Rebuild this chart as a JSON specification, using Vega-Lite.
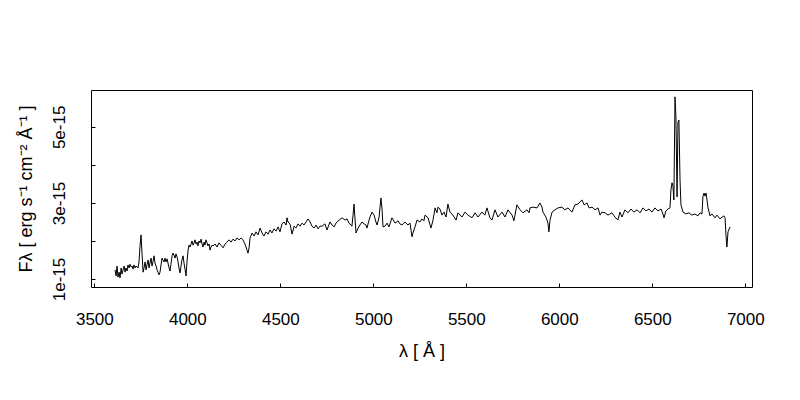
{
  "$schema": "https://vega.github.io/schema/vega-lite/v6.json",
  "width": 661,
  "height": 197,
  "autosize": {"type": "none"},
  "padding": {"left": 91, "top": 90, "right": 48, "bottom": 113},
  "background": "white",
  "config": {
    "view": {"stroke": "black", "strokeWidth": 1},
    "font": "Liberation Sans",
    "axis": {
      "grid": false,
      "domain": false,
      "ticks": true,
      "tickSize": -4,
      "tickColor": "black",
      "tickWidth": 1,
      "labelFont": "Liberation Sans",
      "labelFontSize": 17,
      "labelColor": "black",
      "labelFlush": false,
      "labelOverlap": false,
      "titleFont": "Liberation Sans",
      "titleFontSize": 18,
      "titleFontWeight": "normal",
      "titleColor": "black"
    }
  },
  "data": {
    "values": [
      {"lambda": 3611, "flux": 1.24e-15}, {"lambda": 3617, "flux": 1.08e-15}, {"lambda": 3622, "flux": 1.34e-15}, {"lambda": 3627, "flux": 1.05e-15},
      {"lambda": 3633, "flux": 1.18e-15}, {"lambda": 3638, "flux": 1.03e-15}, {"lambda": 3644, "flux": 1.29e-15}, {"lambda": 3649, "flux": 1.13e-15},
      {"lambda": 3654, "flux": 1.24e-15}, {"lambda": 3660, "flux": 1.34e-15}, {"lambda": 3665, "flux": 1.18e-15}, {"lambda": 3670, "flux": 1.29e-15},
      {"lambda": 3676, "flux": 1.21e-15}, {"lambda": 3681, "flux": 1.37e-15}, {"lambda": 3687, "flux": 1.29e-15}, {"lambda": 3692, "flux": 1.39e-15},
      {"lambda": 3697, "flux": 1.32e-15}, {"lambda": 3703, "flux": 1.34e-15}, {"lambda": 3708, "flux": 1.26e-15}, {"lambda": 3713, "flux": 1.37e-15},
      {"lambda": 3719, "flux": 1.29e-15}, {"lambda": 3724, "flux": 1.34e-15}, {"lambda": 3730, "flux": 1.32e-15}, {"lambda": 3735, "flux": 1.29e-15},
      {"lambda": 3740, "flux": 1.45e-15}, {"lambda": 3746, "flux": 1.89e-15}, {"lambda": 3751, "flux": 2.16e-15}, {"lambda": 3756, "flux": 1.71e-15},
      {"lambda": 3762, "flux": 1.18e-15}, {"lambda": 3767, "flux": 1.29e-15}, {"lambda": 3773, "flux": 1.45e-15}, {"lambda": 3778, "flux": 1.24e-15},
      {"lambda": 3783, "flux": 1.37e-15}, {"lambda": 3789, "flux": 1.50e-15}, {"lambda": 3794, "flux": 1.29e-15}, {"lambda": 3799, "flux": 1.42e-15},
      {"lambda": 3805, "flux": 1.55e-15}, {"lambda": 3810, "flux": 1.34e-15}, {"lambda": 3816, "flux": 1.47e-15}, {"lambda": 3821, "flux": 1.61e-15},
      {"lambda": 3826, "flux": 1.42e-15}, {"lambda": 3832, "flux": 1.34e-15}, {"lambda": 3837, "flux": 1.24e-15}, {"lambda": 3842, "flux": 1.18e-15},
      {"lambda": 3848, "flux": 1.11e-15}, {"lambda": 3853, "flux": 1.18e-15}, {"lambda": 3859, "flux": 1.39e-15}, {"lambda": 3864, "flux": 1.55e-15},
      {"lambda": 3869, "flux": 1.50e-15}, {"lambda": 3875, "flux": 1.45e-15}, {"lambda": 3880, "flux": 1.55e-15}, {"lambda": 3885, "flux": 1.45e-15},
      {"lambda": 3891, "flux": 1.53e-15}, {"lambda": 3896, "flux": 1.42e-15}, {"lambda": 3902, "flux": 1.29e-15}, {"lambda": 3907, "flux": 1.21e-15},
      {"lambda": 3912, "flux": 1.39e-15}, {"lambda": 3918, "flux": 1.61e-15}, {"lambda": 3923, "flux": 1.68e-15}, {"lambda": 3928, "flux": 1.63e-15},
      {"lambda": 3934, "flux": 1.55e-15}, {"lambda": 3939, "flux": 1.66e-15}, {"lambda": 3945, "flux": 1.58e-15}, {"lambda": 3950, "flux": 1.45e-15},
      {"lambda": 3955, "flux": 1.29e-15}, {"lambda": 3961, "flux": 1.16e-15}, {"lambda": 3966, "flux": 1.34e-15}, {"lambda": 3971, "flux": 1.50e-15},
      {"lambda": 3977, "flux": 1.61e-15}, {"lambda": 3982, "flux": 1.42e-15}, {"lambda": 3988, "flux": 1.24e-15}, {"lambda": 3993, "flux": 1.08e-15},
      {"lambda": 3998, "flux": 1.45e-15}, {"lambda": 4004, "flux": 1.76e-15}, {"lambda": 4009, "flux": 1.89e-15}, {"lambda": 4014, "flux": 1.84e-15},
      {"lambda": 4020, "flux": 1.92e-15}, {"lambda": 4025, "flux": 2.00e-15}, {"lambda": 4031, "flux": 1.89e-15}, {"lambda": 4036, "flux": 1.95e-15},
      {"lambda": 4041, "flux": 2.03e-15}, {"lambda": 4047, "flux": 1.92e-15}, {"lambda": 4052, "flux": 1.97e-15}, {"lambda": 4057, "flux": 1.87e-15},
      {"lambda": 4063, "flux": 2.00e-15}, {"lambda": 4068, "flux": 1.95e-15}, {"lambda": 4074, "flux": 2.05e-15}, {"lambda": 4079, "flux": 1.92e-15},
      {"lambda": 4084, "flux": 1.84e-15}, {"lambda": 4090, "flux": 1.97e-15}, {"lambda": 4095, "flux": 1.89e-15}, {"lambda": 4100, "flux": 2.03e-15},
      {"lambda": 4106, "flux": 1.95e-15}, {"lambda": 4111, "flux": 1.87e-15}, {"lambda": 4117, "flux": 1.92e-15}, {"lambda": 4122, "flux": 1.76e-15},
      {"lambda": 4127, "flux": 1.84e-15}, {"lambda": 4133, "flux": 1.89e-15}, {"lambda": 4138, "flux": 1.87e-15}, {"lambda": 4149, "flux": 1.92e-15},
      {"lambda": 4160, "flux": 1.84e-15}, {"lambda": 4170, "flux": 1.95e-15}, {"lambda": 4181, "flux": 1.89e-15}, {"lambda": 4192, "flux": 1.82e-15},
      {"lambda": 4203, "flux": 1.92e-15}, {"lambda": 4213, "flux": 1.97e-15}, {"lambda": 4224, "flux": 2.03e-15}, {"lambda": 4235, "flux": 1.97e-15},
      {"lambda": 4246, "flux": 2.05e-15}, {"lambda": 4256, "flux": 2.00e-15}, {"lambda": 4267, "flux": 2.08e-15}, {"lambda": 4278, "flux": 2.03e-15},
      {"lambda": 4289, "flux": 2.08e-15}, {"lambda": 4299, "flux": 2.03e-15}, {"lambda": 4310, "flux": 1.92e-15}, {"lambda": 4321, "flux": 1.76e-15},
      {"lambda": 4326, "flux": 1.68e-15}, {"lambda": 4332, "flux": 1.82e-15}, {"lambda": 4337, "flux": 2.08e-15}, {"lambda": 4348, "flux": 2.21e-15},
      {"lambda": 4359, "flux": 2.13e-15}, {"lambda": 4369, "flux": 2.24e-15}, {"lambda": 4380, "flux": 2.16e-15}, {"lambda": 4391, "flux": 2.34e-15},
      {"lambda": 4402, "flux": 2.21e-15}, {"lambda": 4412, "flux": 2.13e-15}, {"lambda": 4423, "flux": 2.24e-15}, {"lambda": 4434, "flux": 2.18e-15},
      {"lambda": 4445, "flux": 2.29e-15}, {"lambda": 4455, "flux": 2.21e-15}, {"lambda": 4466, "flux": 2.32e-15}, {"lambda": 4477, "flux": 2.26e-15},
      {"lambda": 4488, "flux": 2.37e-15}, {"lambda": 4498, "flux": 2.24e-15}, {"lambda": 4509, "flux": 2.45e-15}, {"lambda": 4520, "flux": 2.50e-15},
      {"lambda": 4531, "flux": 2.42e-15}, {"lambda": 4536, "flux": 2.61e-15}, {"lambda": 4541, "flux": 2.50e-15}, {"lambda": 4552, "flux": 2.45e-15},
      {"lambda": 4563, "flux": 2.18e-15}, {"lambda": 4574, "flux": 2.39e-15}, {"lambda": 4584, "flux": 2.34e-15}, {"lambda": 4595, "flux": 2.45e-15},
      {"lambda": 4606, "flux": 2.39e-15}, {"lambda": 4617, "flux": 2.47e-15}, {"lambda": 4627, "flux": 2.42e-15}, {"lambda": 4638, "flux": 2.50e-15},
      {"lambda": 4649, "flux": 2.58e-15}, {"lambda": 4660, "flux": 2.50e-15}, {"lambda": 4670, "flux": 2.39e-15}, {"lambda": 4681, "flux": 2.34e-15},
      {"lambda": 4692, "flux": 2.42e-15}, {"lambda": 4703, "flux": 2.32e-15}, {"lambda": 4713, "flux": 2.39e-15}, {"lambda": 4724, "flux": 2.39e-15},
      {"lambda": 4740, "flux": 2.45e-15}, {"lambda": 4751, "flux": 2.29e-15}, {"lambda": 4767, "flux": 2.50e-15}, {"lambda": 4778, "flux": 2.42e-15},
      {"lambda": 4789, "flux": 2.37e-15}, {"lambda": 4799, "flux": 2.47e-15}, {"lambda": 4816, "flux": 2.55e-15}, {"lambda": 4832, "flux": 2.61e-15},
      {"lambda": 4848, "flux": 2.55e-15}, {"lambda": 4859, "flux": 2.58e-15}, {"lambda": 4869, "flux": 2.47e-15}, {"lambda": 4880, "flux": 2.42e-15},
      {"lambda": 4885, "flux": 2.39e-15}, {"lambda": 4891, "flux": 2.68e-15}, {"lambda": 4896, "flux": 2.97e-15}, {"lambda": 4902, "flux": 2.55e-15},
      {"lambda": 4907, "flux": 2.21e-15}, {"lambda": 4918, "flux": 2.34e-15}, {"lambda": 4928, "flux": 2.42e-15}, {"lambda": 4939, "flux": 2.50e-15},
      {"lambda": 4950, "flux": 2.45e-15}, {"lambda": 4961, "flux": 2.42e-15}, {"lambda": 4966, "flux": 2.34e-15}, {"lambda": 4977, "flux": 2.55e-15},
      {"lambda": 4982, "flux": 2.63e-15}, {"lambda": 4993, "flux": 2.76e-15}, {"lambda": 5004, "flux": 2.68e-15}, {"lambda": 5014, "flux": 2.50e-15},
      {"lambda": 5020, "flux": 2.42e-15}, {"lambda": 5031, "flux": 2.63e-15}, {"lambda": 5036, "flux": 2.89e-15}, {"lambda": 5041, "flux": 3.13e-15},
      {"lambda": 5047, "flux": 2.82e-15}, {"lambda": 5052, "flux": 2.37e-15}, {"lambda": 5063, "flux": 2.39e-15}, {"lambda": 5074, "flux": 2.47e-15},
      {"lambda": 5084, "flux": 2.37e-15}, {"lambda": 5100, "flux": 2.61e-15}, {"lambda": 5117, "flux": 2.47e-15}, {"lambda": 5133, "flux": 2.53e-15},
      {"lambda": 5143, "flux": 2.45e-15}, {"lambda": 5154, "flux": 2.42e-15}, {"lambda": 5170, "flux": 2.50e-15}, {"lambda": 5186, "flux": 2.42e-15},
      {"lambda": 5197, "flux": 2.47e-15}, {"lambda": 5208, "flux": 2.11e-15}, {"lambda": 5213, "flux": 2.21e-15}, {"lambda": 5224, "flux": 2.37e-15},
      {"lambda": 5235, "flux": 2.55e-15}, {"lambda": 5251, "flux": 2.50e-15}, {"lambda": 5262, "flux": 2.58e-15}, {"lambda": 5272, "flux": 2.53e-15},
      {"lambda": 5278, "flux": 2.68e-15}, {"lambda": 5294, "flux": 2.61e-15}, {"lambda": 5310, "flux": 2.34e-15}, {"lambda": 5321, "flux": 2.55e-15},
      {"lambda": 5332, "flux": 2.87e-15}, {"lambda": 5342, "flux": 2.74e-15}, {"lambda": 5348, "flux": 2.89e-15}, {"lambda": 5358, "flux": 2.84e-15},
      {"lambda": 5369, "flux": 2.68e-15}, {"lambda": 5380, "flux": 2.76e-15}, {"lambda": 5391, "flux": 2.63e-15}, {"lambda": 5401, "flux": 2.97e-15},
      {"lambda": 5412, "flux": 2.76e-15}, {"lambda": 5428, "flux": 2.68e-15}, {"lambda": 5445, "flux": 2.55e-15}, {"lambda": 5455, "flux": 2.74e-15},
      {"lambda": 5477, "flux": 2.63e-15}, {"lambda": 5493, "flux": 2.76e-15}, {"lambda": 5509, "flux": 2.68e-15}, {"lambda": 5531, "flux": 2.61e-15},
      {"lambda": 5547, "flux": 2.74e-15}, {"lambda": 5563, "flux": 2.63e-15}, {"lambda": 5584, "flux": 2.76e-15}, {"lambda": 5600, "flux": 2.68e-15},
      {"lambda": 5611, "flux": 2.87e-15}, {"lambda": 5627, "flux": 2.61e-15}, {"lambda": 5638, "flux": 2.55e-15}, {"lambda": 5654, "flux": 2.82e-15},
      {"lambda": 5670, "flux": 2.63e-15}, {"lambda": 5692, "flux": 2.76e-15}, {"lambda": 5708, "flux": 2.63e-15}, {"lambda": 5724, "flux": 2.82e-15},
      {"lambda": 5746, "flux": 2.68e-15}, {"lambda": 5756, "flux": 2.53e-15}, {"lambda": 5772, "flux": 2.95e-15}, {"lambda": 5789, "flux": 2.82e-15},
      {"lambda": 5805, "flux": 2.74e-15}, {"lambda": 5826, "flux": 2.82e-15}, {"lambda": 5837, "flux": 2.74e-15}, {"lambda": 5842, "flux": 2.87e-15},
      {"lambda": 5858, "flux": 2.89e-15}, {"lambda": 5880, "flux": 2.87e-15}, {"lambda": 5896, "flux": 3.00e-15}, {"lambda": 5907, "flux": 2.89e-15},
      {"lambda": 5912, "flux": 2.76e-15}, {"lambda": 5928, "flux": 2.63e-15}, {"lambda": 5939, "flux": 2.47e-15}, {"lambda": 5944, "flux": 2.24e-15},
      {"lambda": 5950, "flux": 2.55e-15}, {"lambda": 5961, "flux": 2.76e-15}, {"lambda": 5977, "flux": 2.82e-15}, {"lambda": 5993, "flux": 2.87e-15},
      {"lambda": 6014, "flux": 2.89e-15}, {"lambda": 6030, "flux": 2.82e-15}, {"lambda": 6047, "flux": 2.87e-15}, {"lambda": 6068, "flux": 2.76e-15},
      {"lambda": 6084, "flux": 2.95e-15}, {"lambda": 6100, "flux": 2.97e-15}, {"lambda": 6122, "flux": 3.08e-15}, {"lambda": 6133, "flux": 2.95e-15},
      {"lambda": 6149, "flux": 3.00e-15}, {"lambda": 6160, "flux": 2.87e-15}, {"lambda": 6176, "flux": 2.89e-15}, {"lambda": 6192, "flux": 2.82e-15},
      {"lambda": 6208, "flux": 2.87e-15}, {"lambda": 6219, "flux": 2.68e-15}, {"lambda": 6229, "flux": 2.76e-15}, {"lambda": 6246, "flux": 2.74e-15},
      {"lambda": 6262, "flux": 2.68e-15}, {"lambda": 6283, "flux": 2.74e-15}, {"lambda": 6299, "flux": 2.63e-15}, {"lambda": 6315, "flux": 2.55e-15},
      {"lambda": 6326, "flux": 2.76e-15}, {"lambda": 6337, "flux": 2.63e-15}, {"lambda": 6353, "flux": 2.82e-15}, {"lambda": 6369, "flux": 2.74e-15},
      {"lambda": 6385, "flux": 2.84e-15}, {"lambda": 6401, "flux": 2.76e-15}, {"lambda": 6418, "flux": 2.82e-15}, {"lambda": 6434, "flux": 2.74e-15},
      {"lambda": 6450, "flux": 2.87e-15}, {"lambda": 6466, "flux": 2.79e-15}, {"lambda": 6482, "flux": 2.84e-15}, {"lambda": 6498, "flux": 2.76e-15},
      {"lambda": 6514, "flux": 2.87e-15}, {"lambda": 6530, "flux": 2.79e-15}, {"lambda": 6547, "flux": 2.84e-15}, {"lambda": 6557, "flux": 2.71e-15},
      {"lambda": 6563, "flux": 2.61e-15}, {"lambda": 6573, "flux": 2.79e-15}, {"lambda": 6584, "flux": 2.84e-15}, {"lambda": 6595, "flux": 2.87e-15},
      {"lambda": 6600, "flux": 3.34e-15}, {"lambda": 6606, "flux": 3.53e-15}, {"lambda": 6611, "flux": 3.45e-15}, {"lambda": 6616, "flux": 3.08e-15},
      {"lambda": 6622, "flux": 5.79e-15}, {"lambda": 6627, "flux": 5.26e-15}, {"lambda": 6633, "flux": 3.16e-15}, {"lambda": 6638, "flux": 5.13e-15},
      {"lambda": 6643, "flux": 5.18e-15}, {"lambda": 6649, "flux": 3.61e-15}, {"lambda": 6654, "flux": 2.95e-15}, {"lambda": 6665, "flux": 2.76e-15},
      {"lambda": 6681, "flux": 2.71e-15}, {"lambda": 6697, "flux": 2.74e-15}, {"lambda": 6713, "flux": 2.68e-15}, {"lambda": 6729, "flux": 2.71e-15},
      {"lambda": 6745, "flux": 2.66e-15}, {"lambda": 6756, "flux": 2.74e-15}, {"lambda": 6767, "flux": 2.71e-15}, {"lambda": 6772, "flux": 3.16e-15},
      {"lambda": 6778, "flux": 3.26e-15}, {"lambda": 6783, "flux": 3.18e-15}, {"lambda": 6789, "flux": 3.26e-15}, {"lambda": 6794, "flux": 3.08e-15},
      {"lambda": 6799, "flux": 2.89e-15}, {"lambda": 6810, "flux": 2.66e-15}, {"lambda": 6821, "flux": 2.71e-15}, {"lambda": 6837, "flux": 2.61e-15},
      {"lambda": 6848, "flux": 2.68e-15}, {"lambda": 6864, "flux": 2.58e-15}, {"lambda": 6875, "flux": 2.63e-15}, {"lambda": 6885, "flux": 2.66e-15},
      {"lambda": 6891, "flux": 2.61e-15}, {"lambda": 6896, "flux": 2.16e-15}, {"lambda": 6901, "flux": 1.84e-15}, {"lambda": 6907, "flux": 2.24e-15},
      {"lambda": 6918, "flux": 2.37e-15}
    ]
  },
  "mark": {"type": "line", "color": "black", "strokeWidth": 1, "clip": true},
  "encoding": {
    "x": {
      "field": "lambda",
      "type": "quantitative",
      "scale": {"domain": [3482, 7036], "nice": false, "zero": false},
      "axis": {
        "values": [3500, 4000, 4500, 5000, 5500, 6000, 6500, 7000],
        "format": "d",
        "title": "λ [ Å ]",
        "labelPadding": 28,
        "titlePadding": 15
      }
    },
    "y": {
      "field": "flux",
      "type": "quantitative",
      "scale": {"domain": [7.9e-16, 5.97e-15], "nice": false, "zero": false},
      "axis": {
        "values": [1e-15, 2e-15, 3e-15, 4e-15, 5e-15],
        "labelExpr": "round(datum.value * 1e15) % 2 == 1 ? format(datum.value, '.0e') : ''",
        "labelAngle": -90,
        "labelAlign": "center",
        "labelBaseline": "bottom",
        "labelPadding": 27,
        "title": "Fλ [ erg s⁻¹ cm⁻² Å⁻¹ ]",
        "titlePadding": 15
      }
    }
  }
}
